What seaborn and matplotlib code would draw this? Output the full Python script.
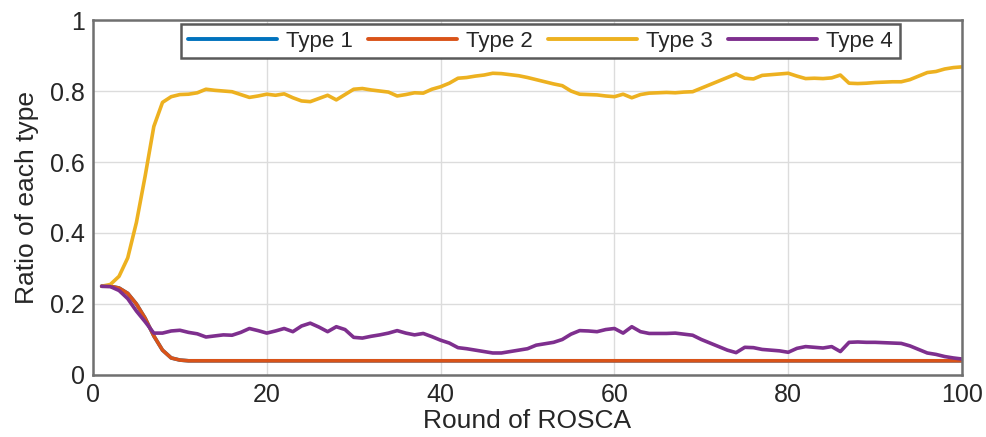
import matplotlib
matplotlib.use("Agg")
import matplotlib.pyplot as plt
import numpy as np
import pandas as pd
import seaborn as sns

# rounds 1..100
rounds = list(range(1, 101))

# Type 1 and Type 2 overlap exactly
type12 = [0.25, 0.25, 0.245, 0.23, 0.20, 0.16, 0.11, 0.07, 0.048, 0.042] + [0.04] * 90
type1 = list(type12)
type2 = list(type12)

type3 = [0.25, 0.255, 0.278, 0.33, 0.43, 0.56, 0.70, 0.768, 0.784, 0.790,
         0.791, 0.795, 0.805, 0.802, 0.800, 0.798, 0.790, 0.782, 0.786, 0.791,
         0.788, 0.792, 0.781, 0.772, 0.770, 0.779, 0.788, 0.775, 0.790, 0.805,
         0.807, 0.803, 0.800, 0.797, 0.786, 0.790, 0.795, 0.794, 0.805, 0.812,
         0.822, 0.836, 0.838, 0.842, 0.845, 0.850, 0.849, 0.846, 0.843, 0.838,
         0.832, 0.826, 0.820, 0.815, 0.800, 0.791, 0.790, 0.789, 0.786, 0.784,
         0.791, 0.781, 0.790, 0.794, 0.795, 0.796, 0.795, 0.797, 0.798, 0.808,
         0.818, 0.828, 0.838, 0.848, 0.836, 0.834, 0.844, 0.846, 0.848, 0.850,
         0.842, 0.835, 0.836, 0.835, 0.837, 0.845, 0.822, 0.821, 0.822, 0.824,
         0.825, 0.826, 0.826, 0.832, 0.842, 0.852, 0.855, 0.862, 0.866, 0.868]

type4 = [0.25, 0.249, 0.238, 0.215, 0.18, 0.15, 0.118, 0.118, 0.124, 0.126,
         0.120, 0.116, 0.107, 0.110, 0.113, 0.112, 0.120, 0.131, 0.125, 0.118,
         0.124, 0.131, 0.122, 0.138, 0.146, 0.135, 0.122, 0.136, 0.128, 0.106,
         0.104, 0.109, 0.113, 0.118, 0.125, 0.118, 0.113, 0.117, 0.108, 0.098,
         0.090, 0.077, 0.074, 0.070, 0.066, 0.062, 0.062, 0.066, 0.070, 0.074,
         0.084, 0.088, 0.092, 0.100, 0.115, 0.125, 0.124, 0.122, 0.128, 0.131,
         0.118, 0.136, 0.122, 0.117, 0.117, 0.117, 0.118, 0.115, 0.112, 0.100,
         0.090, 0.080, 0.070, 0.063, 0.078, 0.077, 0.072, 0.070, 0.068, 0.064,
         0.075, 0.080, 0.078, 0.076, 0.080, 0.066, 0.092, 0.093, 0.092, 0.092,
         0.091, 0.090, 0.089, 0.082, 0.072, 0.062, 0.058, 0.052, 0.048, 0.045]

type_names = ['Type 1', 'Type 2', 'Type 3', 'Type 4']
colors = ['#0072BD', '#D95319', '#EDB120', '#7E2F8E']

df = pd.DataFrame({
    'Round': rounds * 4,
    'Ratio': type1 + type2 + type3 + type4,
    'Type': sum([[n] * len(rounds) for n in type_names], []),
})

sns.set_style("whitegrid")
plt.rcParams['font.family'] = ['Liberation Sans', 'DejaVu Sans']

fig = plt.figure(figsize=(9.86, 4.37), dpi=100)
ax = fig.add_axes([0.0943, 0.1419, 0.8814, 0.8123])

sns.lineplot(data=df, x='Round', y='Ratio', hue='Type', hue_order=type_names,
             palette=colors, linewidth=2.6, ax=ax, legend=False)

ax.set_xlim(0, 100)
ax.set_ylim(0, 1)
ax.set_xticks([0, 20, 40, 60, 80, 100])
ax.set_yticks([0, 0.2, 0.4, 0.6, 0.8, 1])
ax.set_yticklabels(['0', '0.2', '0.4', '0.6', '0.8', '1'])

ax.grid(True, color='#dcdcdc', lw=1)
for s in ax.spines.values():
    s.set_visible(True)
    s.set_color('#707070')
    s.set_linewidth(1.8)
ax.tick_params(axis='both', direction='in', length=5, width=1.2, color='#404040',
               labelsize=18, labelcolor='#262626', pad=6)

ax.set_xlabel('Round of ROSCA', fontsize=19, color='#262626', labelpad=1)
ax.set_ylabel('Ratio of each type', fontsize=19, color='#262626', labelpad=8)

handles = [plt.Line2D([], [], color=c, lw=2.8) for c in colors]
leg = ax.legend(handles, type_names, ncol=4, loc='center', bbox_to_anchor=(0.515, 0.94),
                fontsize=16, frameon=True, fancybox=False, framealpha=1,
                edgecolor='#5a5a5a', handlelength=4.0, handletextpad=0.4,
                columnspacing=0.7, borderpad=0.3, borderaxespad=0)
leg.get_frame().set_linewidth(1.8)
for t in leg.get_texts():
    t.set_color('#262626')

fig.savefig('out.png', dpi=100)
